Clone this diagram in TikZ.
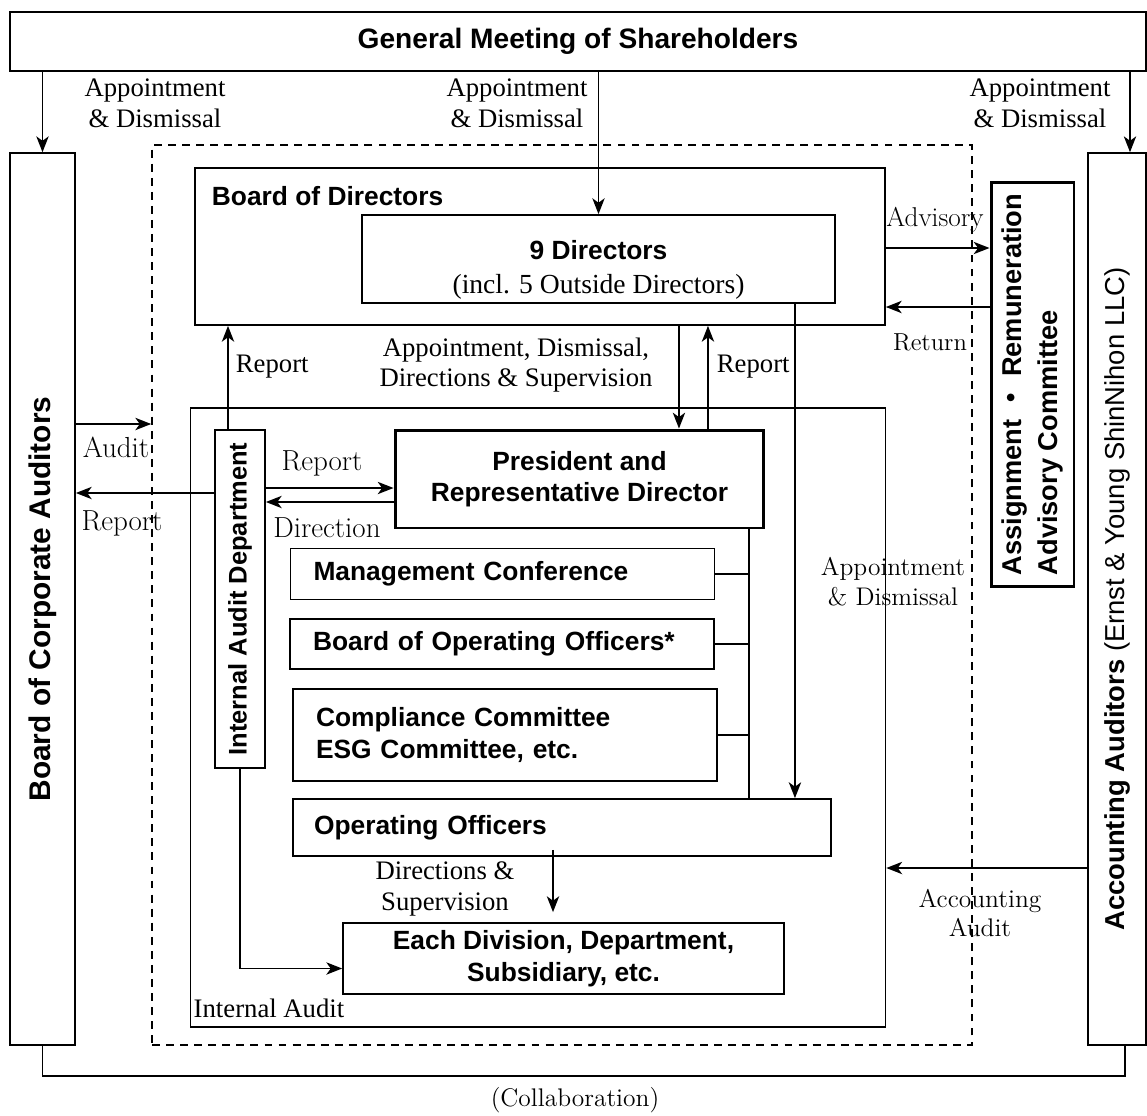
\documentclass[tikz,border=0pt]{standalone}
\usepackage{fontspec}
\usepackage{graphicx}
\setsansfont{Liberation Sans}
\newfontfamily\tms{Liberation Serif}
\newfontfamily\jpf{Noto Sans CJK JP}
\usetikzlibrary{arrows.meta}

\tikzset{
  box/.style={draw, line width=1pt, inner sep=0pt, align=center,
    font=\sffamily\bfseries\fontsize{15}{18}\selectfont},
  heavy/.style={box, line width=1.7pt},
  lbl/.style={font=\fontsize{16.5}{19}\selectfont, align=center, inner sep=0pt},
  slbl/.style={font=\fontsize{14.5}{17}\selectfont, align=center, inner sep=0pt},
  tlbl/.style={font=\tms\fontsize{15.2}{17.5}\selectfont, align=center, inner sep=0pt},
  ttl/.style={font=\sffamily\bfseries\fontsize{15}{18}\selectfont, inner sep=0pt},
  >={Stealth[length=9pt,width=7pt,inset=2.5pt]}
}

\begin{document}
\begin{tikzpicture}[x=0.02cm, y=-0.02cm, line width=1pt]
  \useasboundingbox (0,0) rectangle (1147,1116);

  % outer boxes
  \begin{scope}[every node/.style={box}]
    \node[minimum width=22.72cm, minimum height=1.18cm,
      font=\sffamily\bfseries\fontsize{16}{19}\selectfont] (gm) at (578,41.5) {General Meeting of Shareholders};
    \node[minimum width=1.30cm, minimum height=17.84cm,
      font=\sffamily\bfseries\fontsize{17}{19}\selectfont] (bca) at (42.5,599) {\rotatebox{90}{Board of Corporate Auditors}};
    \node[minimum width=1.16cm, minimum height=17.84cm,
      font=\sffamily\bfseries\fontsize{15.6}{19}\selectfont] (aa) at (1117,599)
      {\rotatebox{90}{Accounting Auditors \mdseries(Ernst \& Young ShinNihon LLC)}};
    \node[dashed, dash pattern=on 4.5pt off 3.5pt, minimum width=16.4cm, minimum height=18cm] (grp) at (562,595) {};
    \node[minimum width=13.8cm, minimum height=3.14cm] (bod) at (540,246.5) {};
    \node[minimum width=9.46cm, minimum height=1.76cm] (dir) at (598.5,259) {};
    \node[heavy, minimum width=1.66cm, minimum height=8.1cm,
      font=\sffamily\bfseries\fontsize{15.5}{18}\selectfont] (arc) at (1032.5,384.5)
      {\rotatebox{90}{\def\arraystretch{1.15}\begin{tabular}{@{}l@{}}Assignment {\jpf ・} Remuneration\\Advisory Committee\end{tabular}}};
    \node[minimum width=13.9cm, minimum height=12.38cm] (mgmt) at (538,717.5) {};
    \node[minimum width=1.0cm, minimum height=6.76cm,
      font=\sffamily\bfseries\fontsize{14.5}{17}\selectfont] (iad) at (240,599) {\rotatebox{90}{Internal Audit Department}};
    \node[heavy, minimum width=7.38cm, minimum height=1.96cm] (pres) at (579.5,479)
      {President and\\Representative Director};
    \node[minimum height=1.02cm, text width=7.56cm, inner xsep=0.46cm, align=left] (mc) at (502.5,574)
      {Management Conference};
    \node[minimum height=1cm, text width=7.56cm, inner xsep=0.46cm, align=left] (boo) at (502,644)
      {Board of Operating Officers*};
    \node[minimum height=1.84cm, text width=7.56cm, inner xsep=0.46cm, align=left] (cc) at (505,735)
      {Compliance Committee\\ESG Committee, etc.};
    \node[minimum height=1.14cm, text width=9.92cm, inner xsep=0.42cm, align=left] (oo) at (562,827.5)
      {Operating Officers};
    \node[minimum width=8.82cm, minimum height=1.42cm] (ed) at (563.5,958.5)
      {Each Division, Department,\\Subsidiary, etc.};
  \end{scope}

  \node[ttl, anchor=west] (bodt) at (211,196) {Board of Directors};
  \node[ttl, align=center] (dirt) at (598.5,270)
    {9 Directors\\[1pt]{\tms\mdseries\fontsize{15.7}{17}\selectfont (incl. 5 Outside Directors)}};

  % helper rows
  \coordinate (bus) at (749,528);
  \coordinate (ret) at (885,307);
  \coordinate (aud) at (75,424);
  \coordinate (rpb) at (75,493);
  \coordinate (rpp) at (262,488);
  \coordinate (drp) at (262,502);
  \coordinate (acc) at (885,868);

  % connectors
  \draw[->] (gm.south -| bca.north) -- (bca.north);
  \draw[->] (gm.south -| dir.north) -- (dir.north);
  \draw[->] ([xshift=0.26cm]gm.south -| aa.north) -- ([xshift=0.26cm]aa.north);
  \draw[->] ([yshift=-0.03cm]bod.east) -- ([yshift=-0.03cm]bod.east -| arc.west);
  \draw[->] (ret -| arc.west) -- (ret -| bod.east);
  \draw[->] ([xshift=-0.24cm]iad.north) -- ([xshift=-0.24cm]iad.north |- bod.south);
  \draw[->] (aud -| bca.east) -- (aud -| grp.west);
  \draw[->] (rpb -| iad.west) -- (rpb -| bca.east);
  \draw[->] (rpp -| iad.east) -- (rpp -| pres.west);
  \draw[->] (drp -| pres.west) -- (drp -| iad.east);
  \draw[->] ([xshift=2.78cm]bod.south) -- ([xshift=2.78cm]bod.south |- pres.north);
  \draw[->] ([xshift=2.57cm]pres.north) -- ([xshift=2.57cm]pres.north |- bod.south);
  \draw[->] ([xshift=3.93cm]dir.south) -- ([xshift=3.93cm]dir.south |- oo.north);
  \draw (pres.south -| bus) -- (oo.north -| bus);
  \draw (mc.east) -- (mc.east -| bus);
  \draw (boo.east) -- (boo.east -| bus);
  \draw (cc.east) -- (cc.east -| bus);
  \draw[->, shorten >=0.2cm] ([xshift=-0.18cm, yshift=0.14cm]oo.south) -- ([xshift=-0.18cm]oo.south |- ed.north);
  \draw[->] (iad.south) |- ([yshift=-0.2cm]ed.west);
  \draw[->] (acc -| aa.west) -- (acc -| mgmt.east);
  \draw (bca.south) -- ++(0,30) -| ([xshift=0.16cm]aa.south);

  % labels
  \node[tlbl] (l1) at (155,103) {Appointment\\\& Dismissal};
  \node[tlbl] (l2) at (517,103) {Appointment\\\& Dismissal};
  \node[tlbl] (l3) at (1040,103) {Appointment\\\& Dismissal};
  \node[slbl, font=\fontsize{15.5}{18}\selectfont] (ladv) at (935,220) {Advisory};
  \node[slbl, font=\fontsize{14}{17}\selectfont] (lret) at (930,342) {Return};
  \node[tlbl, anchor=west] (lrep1) at (235,367) {Report};
  \node[tlbl] (lads) at (516,365) {Appointment, Dismissal,\\Directions \& Supervision};
  \node[tlbl, anchor=west] (lrep2) at (716,367) {Report};
  \node[lbl] (laud) at (116,447) {Audit};
  \node[lbl] (lrep3) at (122,523) {Report};
  \node[lbl] (lrep4) at (322,463) {Report};
  \node[lbl] (ldir) at (327,528) {Direction};
  \node[slbl] (lad2) at (893,582) {Appointment\\\& Dismissal};
  \node[tlbl] (lds) at (445,889) {Directions \&\\Supervision};
  \node[slbl] (lacc) at (980,913) {Accounting\\Audit};
  \node[tlbl] (lia) at (269,1008) {Internal Audit};
  \node[slbl] (lcol) at (575,1100) {(Collaboration)};
\end{tikzpicture}
\end{document}
